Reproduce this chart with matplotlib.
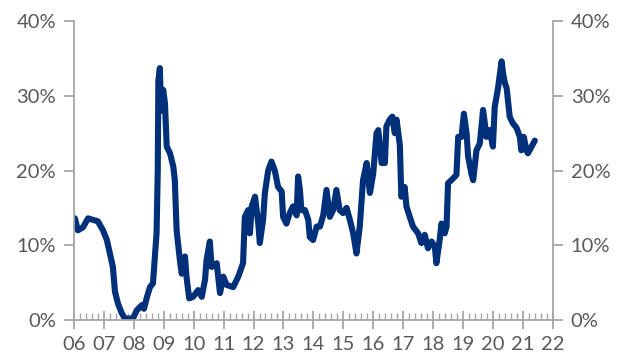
import matplotlib
matplotlib.use('Agg')
import matplotlib.pyplot as plt
from matplotlib.ticker import MultipleLocator, AutoMinorLocator, FuncFormatter

# decimal year and share (%)
years = [2006.03, 2006.13, 2006.30, 2006.47, 2006.63, 2006.80, 2006.97, 2007.10, 2007.20, 2007.30,
         2007.37, 2007.47, 2007.60, 2007.70, 2007.97, 2008.10, 2008.27, 2008.34, 2008.44, 2008.54,
         2008.64, 2008.71, 2008.76, 2008.80, 2008.82, 2008.87, 2008.91, 2008.98, 2009.04, 2009.10,
         2009.21, 2009.32, 2009.37, 2009.43, 2009.54, 2009.60, 2009.71, 2009.76, 2009.85, 2009.98,
         2010.15, 2010.27, 2010.38, 2010.43, 2010.54, 2010.60, 2010.77, 2010.88, 2010.99, 2011.10,
         2011.32, 2011.49, 2011.65, 2011.71, 2011.82, 2011.88, 2011.94, 2012.05, 2012.16, 2012.21,
         2012.32, 2012.38, 2012.49, 2012.60, 2012.71, 2012.82, 2012.94, 2012.99, 2013.10, 2013.21,
         2013.32, 2013.44, 2013.49, 2013.55, 2013.60, 2013.72, 2013.83, 2013.88, 2013.99, 2014.11,
         2014.22, 2014.33, 2014.44, 2014.55, 2014.66, 2014.77, 2014.88, 2014.99, 2015.11, 2015.22,
         2015.33, 2015.44, 2015.55, 2015.66, 2015.78, 2015.89, 2016.00, 2016.11, 2016.17, 2016.28,
         2016.39, 2016.44, 2016.55, 2016.64, 2016.72, 2016.78, 2016.89, 2016.94, 2017.05, 2017.11,
         2017.22, 2017.33, 2017.50, 2017.61, 2017.72, 2017.83, 2017.95, 2018.06, 2018.11, 2018.22,
         2018.28, 2018.39, 2018.45, 2018.50, 2018.61, 2018.78, 2018.84, 2018.95, 2019.03, 2019.12,
         2019.17, 2019.28, 2019.34, 2019.45, 2019.56, 2019.62, 2019.67, 2019.73, 2019.78, 2019.89,
         2020.00, 2020.06, 2020.17, 2020.29, 2020.34, 2020.40, 2020.46, 2020.56, 2020.67, 2020.79,
         2020.90, 2020.95, 2021.03, 2021.12, 2021.17, 2021.29, 2021.40]
share = [13.6, 12.0, 12.4, 13.6, 13.4, 13.2, 12.0, 10.7, 8.9, 7.1,
         3.8, 2.2, 0.9, 0.2, 0.2, 1.3, 2.0, 1.5, 3.1, 4.4,
         4.9, 8.9, 11.6, 20.0, 32.0, 33.7, 28.0, 30.8, 29.0, 23.2,
         22.3, 20.5, 18.7, 12.0, 8.0, 6.2, 8.5, 5.8, 2.9, 3.1,
         4.0, 3.1, 5.4, 8.0, 10.5, 7.1, 7.6, 3.6, 5.8, 4.7,
         4.4, 5.8, 7.6, 13.8, 14.7, 11.6, 15.2, 16.5, 12.9, 10.3,
         13.4, 17.0, 20.0, 21.2, 20.0, 17.8, 17.2, 13.8, 12.9, 14.3,
         15.2, 14.0, 19.2, 17.4, 14.7, 14.7, 13.4, 11.1, 10.7, 12.5,
         12.5, 14.0, 17.4, 13.8, 14.7, 17.4, 14.7, 14.3, 15.0, 13.4,
         11.6, 8.9, 12.5, 18.7, 21.0, 17.0, 19.6, 25.0, 25.4, 21.0,
         21.0, 25.9, 26.8, 27.2, 25.0, 26.8, 23.4, 16.5, 17.8, 15.2,
         13.8, 12.5, 11.6, 10.3, 11.4, 9.6, 10.5, 9.8, 7.6, 10.7,
         12.9, 11.6, 12.5, 18.3, 18.7, 19.4, 24.5, 24.5, 27.6, 25.0,
         21.9, 19.6, 18.7, 22.7, 23.6, 25.9, 28.1, 26.3, 24.5, 25.4,
         23.2, 28.5, 31.0, 34.6, 33.0, 31.7, 31.0, 27.2, 26.3, 25.7,
         24.5, 22.7, 24.5, 22.7, 22.3, 23.2, 24.0]

year_labels = ['06', '07', '08', '09', '10', '11', '12', '13', '14', '15', '16',
               '17', '18', '19', '20', '21', '22']

plt.rcParams['font.family'] = ['Lato', 'DejaVu Sans']
grey = '#a6a6a6'
txt = '#595959'

fig = plt.figure(figsize=(6.19, 3.59), dpi=100)
ax = fig.add_axes([0.1195, 0.1086, 0.7735, 0.8329])
ax.plot(years, share, color='#00307a', linewidth=4.4,
        solid_joinstyle='round', solid_capstyle='round')

ax.set_xlim(2006, 2022)
ax.set_ylim(0, 40)
ax.set_xticks(range(2006, 2023))
ax.set_xticklabels(year_labels)
ax.xaxis.set_minor_locator(AutoMinorLocator(5))
ax.yaxis.set_major_locator(MultipleLocator(10))
ax.yaxis.set_major_formatter(FuncFormatter(lambda v, p: '%d%%' % v))

ax.spines['top'].set_visible(False)
for s in ['left', 'right', 'bottom']:
    ax.spines[s].set_color(grey)
    ax.spines[s].set_linewidth(1.3)

ax.tick_params(axis='x', which='major', direction='inout', length=13, width=1.3,
               color=grey, labelsize=14.5, labelcolor=txt, pad=5)
ax.tick_params(axis='x', which='minor', direction='in', length=5, width=1.0, color=grey)
ax.tick_params(axis='y', which='major', direction='out', length=7, width=1.3,
               color=grey, labelsize=14.5, labelcolor=txt, pad=6,
               left=True, right=True, labelleft=True, labelright=True)

fig.savefig('out.png', dpi=100)
